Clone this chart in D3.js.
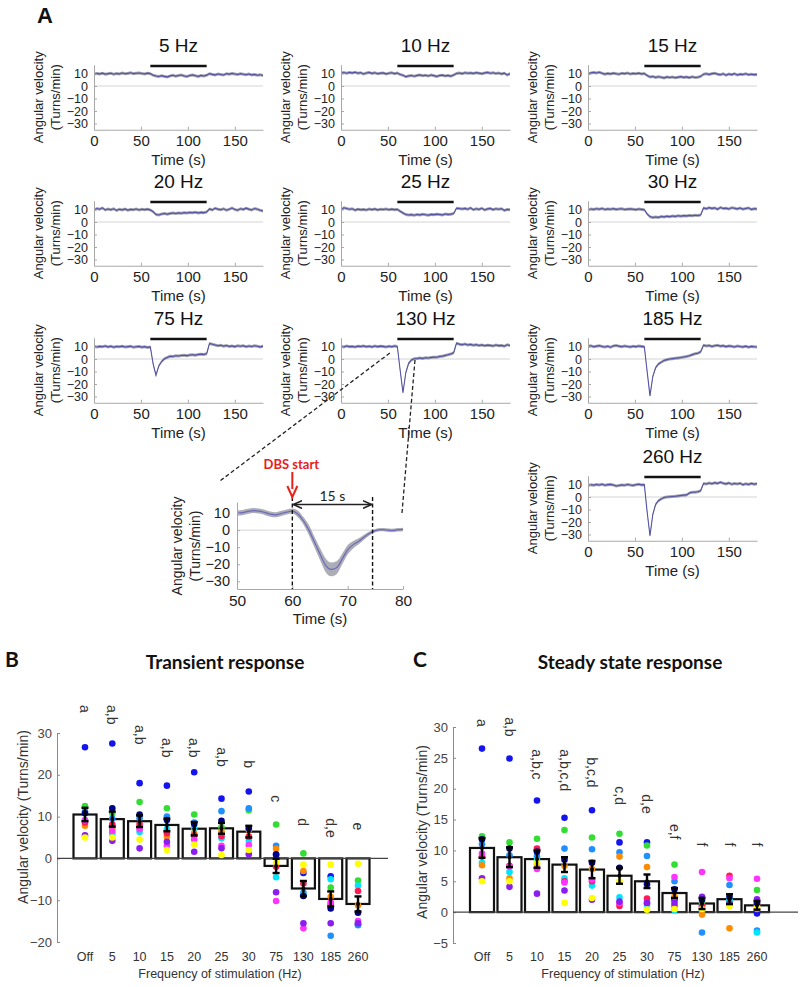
<!DOCTYPE html>
<html><head><meta charset="utf-8">
<script src="https://cdn.jsdelivr.net/npm/d3@7"></script>
<style>body{margin:0;background:#fff}svg{display:block}</style>
</head><body>
<svg id="c" width="800" height="987"></svg>
<script>
// ---------------- DATA ----------------
const timesA = [0,3,6,9,12,15,18,21,24,27,30,33,36,39,42,45,48,51,54,57,60,63,66,69,72,75,78,81,84,87,90,93,96,99,102,105,108,111,114,117,120,123,126,129,132,135,138,141,144,147,150,153,156,159,162,165,168,171,174,177,180];
const trace5 = [9.6,10.1,9.7,10.3,9.5,9.9,10.2,9.4,10.0,9.7,10.4,9.8,10.1,10.6,9.9,10.2,10.4,10.0,9.7,10.3,9.9,8.6,8.0,7.6,8.3,7.7,7.3,8.1,8.6,7.9,8.4,8.8,8.0,7.6,8.4,8.9,8.2,7.7,8.5,8.0,8.7,9.9,9.3,8.9,9.6,9.2,8.8,9.9,9.5,10.1,9.6,9.2,9.9,9.4,9.0,9.6,8.9,9.3,8.6,9.0,8.4];
const trace10 = [10.4,10.8,10.2,10.9,10.5,11.0,10.3,10.7,9.6,10.4,10.9,10.1,10.6,9.8,10.3,10.5,9.7,10.2,10.6,9.9,10.4,9.2,8.6,7.4,8.1,8.4,7.8,8.5,8.9,8.2,8.6,8.0,8.8,8.3,7.7,8.4,8.7,8.1,8.5,7.9,8.8,10.0,10.4,9.9,10.6,10.2,10.5,10.1,10.7,10.3,9.8,10.5,10.9,10.2,10.6,10.0,10.4,9.7,10.3,8.9,9.8];
const trace15 = [9.6,10.5,10.9,10.4,11.0,10.2,9.5,10.1,9.7,10.3,9.8,9.4,10.2,9.9,10.4,9.6,10.1,9.8,10.3,9.7,10.0,8.4,7.2,7.6,6.9,7.4,7.0,6.5,7.3,6.8,7.2,6.6,7.1,7.5,6.9,7.3,6.7,7.4,6.8,7.0,7.7,9.4,9.8,9.3,9.9,10.2,9.5,9.0,9.8,8.7,9.6,9.1,9.9,8.8,9.5,9.2,9.8,9.0,9.4,9.1,9.3];
const trace20 = [9.4,10.8,10.2,11.3,9.6,10.4,9.8,10.6,9.3,10.2,9.7,10.5,9.5,10.1,9.8,10.4,9.6,10.2,9.9,10.3,9.7,8.2,6.0,5.6,6.4,6.8,6.3,6.9,7.2,6.8,7.3,7.0,7.5,7.2,7.6,7.4,7.8,7.3,7.7,7.5,8.0,10.4,9.7,11.0,10.3,9.8,10.6,9.4,10.2,11.2,10.0,9.5,10.6,10.1,11.1,10.3,9.6,10.8,10.2,9.4,8.8];
const trace25 = [9.6,11.4,10.8,10.2,10.6,9.5,10.3,9.8,10.1,9.6,10.4,9.9,10.5,9.7,10.2,10.0,10.4,9.8,10.3,9.9,10.1,8.6,7.2,6.0,5.6,5.9,5.4,6.0,5.7,6.2,5.8,5.5,6.1,5.9,6.3,6.0,5.7,6.4,6.1,6.3,6.8,11.0,10.8,10.4,10.9,10.2,11.3,9.8,10.6,10.1,11.0,9.6,10.5,10.9,9.9,10.6,10.2,10.7,9.3,10.1,9.8];
const trace30 = [9.6,10.4,10.1,10.6,10.3,10.8,10.0,10.5,10.2,10.7,10.1,10.4,10.6,10.0,10.3,10.5,10.2,9.9,10.4,10.1,9.8,6.4,4.3,3.6,4.0,3.7,4.4,4.1,4.6,4.3,4.8,4.5,5.0,4.7,5.1,4.9,5.3,5.0,5.4,5.2,5.6,11.2,10.6,11.5,10.9,11.3,10.2,11.6,10.8,11.1,10.4,11.4,11.0,10.5,11.2,10.3,10.8,11.3,10.1,10.7,10.4];
const trace75 = [10.3,9.6,10.1,9.8,10.4,9.7,10.2,9.5,10.0,9.8,10.3,9.6,9.9,10.2,9.4,9.8,10.1,9.5,9.9,9.3,9.7,-4.0,-13.0,-5.5,-2.0,0.2,1.2,2.2,2.0,2.6,2.4,2.8,3.0,2.7,3.2,3.4,3.1,3.6,3.9,3.7,4.2,12.4,11.8,11.2,10.6,11.0,10.3,10.8,10.1,10.5,9.9,10.6,10.2,10.7,9.8,10.4,10.0,10.6,10.2,9.7,10.3];
const trace130 = [10.2,9.7,10.4,9.9,10.1,9.6,10.3,10.0,10.5,9.8,10.2,9.7,10.4,9.9,10.3,10.1,9.6,10.2,9.8,10.4,10.0,-9.0,-27.0,-11.0,-3.5,-0.8,0.2,0.4,0.8,0.5,1.0,0.8,1.3,1.5,1.4,2.0,2.3,2.9,3.4,4.0,5.0,12.6,11.9,11.4,12.0,11.2,11.7,11.0,11.5,10.8,11.3,10.6,11.1,10.9,10.4,11.2,10.7,10.9,10.3,11.4,10.8];
const trace185 = [10.1,10.6,9.8,10.3,10.7,10.0,9.6,10.2,9.4,10.5,10.8,10.3,9.9,10.4,10.0,9.7,10.2,9.9,10.4,10.1,9.8,-10.0,-29.5,-14.0,-7.0,-4.0,-2.5,-1.2,-0.5,0.0,0.3,0.6,0.9,1.2,1.6,2.0,2.6,3.5,4.2,4.6,5.8,11.0,10.4,10.8,10.1,10.6,11.0,10.3,10.7,9.9,10.5,10.2,9.6,10.4,10.0,9.7,10.3,9.5,10.1,9.8,9.6];
const trace260 = [9.2,9.8,9.5,10.0,9.6,10.2,9.4,9.9,10.1,9.6,8.8,9.2,9.7,9.4,10.0,9.6,9.3,9.8,10.2,9.7,9.9,-12.0,-31.0,-14.0,-6.0,-3.0,-1.5,-0.4,0.0,0.2,0.4,0.6,0.9,1.2,1.5,1.7,3.2,3.8,3.9,4.2,5.0,10.8,10.4,11.2,10.6,11.5,10.9,11.8,11.0,10.5,11.3,10.2,10.8,10.4,11.0,9.8,10.6,10.1,10.9,10.3,10.7];
const semA = 1.2;
const panelTitles = ["5 Hz","10 Hz","15 Hz","20 Hz","25 Hz","30 Hz","75 Hz","130 Hz","185 Hz","260 Hz"];
const stimOn = [60,120];
const yTicksA = [-30,-20,-10,0,10];
const xTicksA = [0,50,100,150];

const timesInset = [50,51,52,53,54,55,56,57,58,59,60,61,62,63,64,65,66,67,68,69,70,71,72,73,74,75,76,77,78,79,80];
const traceInset = [10.0,10.3,11.0,11.5,11.2,10.4,9.4,9.0,9.8,10.6,11.2,9.5,5.5,0.0,-7.0,-14.0,-20.5,-23.0,-22.0,-17.0,-11.5,-8.5,-6.5,-4.0,-1.8,-0.3,0.3,0.1,-0.2,0.2,0.4];
const semInset = [1.5,1.5,1.5,1.5,1.5,1.5,1.5,1.5,1.5,1.5,1.5,2.0,2.2,3.0,3.2,3.5,4.0,4.0,3.8,3.2,2.8,2.2,1.8,1.5,1.2,1.0,1.0,1.0,1.0,1.0,1.0];
const xTicksInset = [50,60,70,80];
const dbsStart = 60, recoveryEnd = 74.5;

const freqCats = ["Off","5","10","15","20","25","30","75","130","185","260"];
const animalColors = ["#1414f0","#33dd33","#1e90ff","#00e5ff","#ff8c00","#ff1a55","#ff33ff","#8a1ef0","#ffff00","#000088"];
const transientDots = [
  [26.6,27.5,18.0,17.4,20.6,14.3,16.0,0.8,-3.5,-4.3,-15.8],
  [12.5,10.8,13.5,12.0,10.5,7.5,11.5,8.1,1.2,-7.0,-5.3],
  [11.2,9.5,9.6,10.0,8.6,11.3,12.0,3.0,-8.2,-18.5,-16.0],
  [9.2,5.8,6.3,7.0,7.2,4.8,4.2,-4.5,-8.8,-5.0,-6.5],
  [7.8,7.2,7.6,5.2,6.0,6.5,6.8,2.3,-3.0,-9.2,-11.2],
  [8.6,8.1,8.2,6.0,5.5,5.3,5.2,-2.0,-6.0,-11.0,-7.8],
  [9.1,6.5,7.0,3.0,4.5,3.0,3.2,-10.2,-16.7,-10.5,-15.0],
  [5.5,4.2,2.4,4.0,1.6,2.4,1.0,-8.1,-15.5,-15.5,-15.5],
  [5.0,5.0,4.5,2.0,3.3,0.8,2.0,-1.0,-1.5,-1.5,-1.3],
  [10.8,12.0,10.5,9.2,8.2,9.0,7.2,1.0,-9.0,-12.0,-13.0]
];
const steadyDots = [
  [26.5,24.9,18.1,15.3,16.5,11.3,11.3,2.0,1.0,1.5,-0.2],
  [12.3,11.3,11.9,13.3,12.1,12.7,10.8,7.7,1.5,1.8,3.6],
  [11.0,9.2,9.0,10.3,10.2,9.7,9.1,5.0,-3.3,4.4,-3.0],
  [8.0,6.5,8.5,5.5,4.3,2.4,1.2,0.3,0.2,2.0,-3.3],
  [7.6,5.5,7.8,7.5,7.0,9.0,7.3,2.5,-0.4,-2.6,0.5],
  [9.0,7.5,10.3,5.0,5.0,1.0,2.2,1.0,1.0,5.9,1.3],
  [9.5,7.4,7.0,4.8,5.3,1.5,1.5,5.7,6.5,5.5,5.4],
  [5.5,4.1,3.0,3.5,2.0,1.7,1.5,1.5,2.5,1.4,2.1],
  [5.0,5.0,8.0,1.5,2.3,5.0,0.4,0.5,0.5,1.0,1.0],
  [11.8,10.3,9.8,8.5,8.0,7.2,4.5,3.7,2.0,2.5,1.5]
];
const meanB = [10.5,9.4,8.9,8.0,7.1,7.2,6.4,-1.8,-7.2,-9.7,-10.9];
const semB = [1.6,1.8,1.4,1.5,1.6,1.3,1.4,1.7,1.8,1.8,1.8];
const meanC = [10.4,8.9,8.6,7.7,6.9,5.9,5.0,3.1,1.4,2.1,1.1];
const semC = [1.6,1.6,1.4,1.2,1.4,1.3,1.1,0.8,0.9,0.8,0.7];
const lettersB = ["a","a,b","a,b","a,b","a,b","a,b","b","c","d","d,e","e"];
const letterTopB = [36.7,36.7,31.9,28.8,28.8,26.6,23.5,15.1,9.6,9.6,8.6];
const lettersC = ["a","a,b","a,b,c","a,b,c,d","b,c,d","c,d","d,e","e,f","f","f","f"];
const letterTopC = [31.3,31.6,26.4,26.4,25.1,20.4,19.1,14.3,11.3,11.3,11.3];
const yTicksB = [-20,-10,0,10,20,30];
const yTicksC = [-5,0,5,10,15,20,25,30];

// ---------------- DRAW ----------------
const svg = d3.select("#c");
const SANS = "'Liberation Sans', Arial, Helvetica, sans-serif";
const CAL = "Lato, 'Open Sans', sans-serif";
const traces = [trace5,trace10,trace15,trace20,trace25,trace30,trace75,trace130,trace185,trace260];
const grid = [[0,0],[1,0],[2,0],[0,1],[1,1],[2,1],[0,2],[1,2],[2,2],[2,3]];
const colX = [94,341,588];
const rowZero = [86,222,359,497];
const scalesA = [];

function styleAxis(g, size, color) {
  g.selectAll(".domain").attr("stroke","#a8a8a8");
  g.selectAll(".tick line").attr("stroke","#a8a8a8");
  g.selectAll(".tick text").attr("font-family",SANS).attr("font-size",size).attr("fill",color||"#222");
}

traces.forEach((tr,k) => {
  const [c,r] = grid[k];
  const x0 = colX[c], z = rowZero[r];
  const x = d3.scaleLinear().domain([0,180]).range([x0,x0+169]);
  const y = d3.scaleLinear().domain([-35,17]).range([z+43.75,z-21.25]);
  scalesA.push({x,y});
  const g = svg.append("g");
  g.append("line").attr("x1",x(0)).attr("x2",x(180)).attr("y1",y(0)).attr("y2",y(0)).attr("stroke","#d4d4d4").attr("stroke-width",1);
  const pts = timesA.map((t,i)=>({t,v:tr[i]})).filter(d=>d.v!==undefined);
  g.append("path").datum(pts).attr("fill","#9898a8").attr("opacity",0.9)
    .attr("d",d3.area().x(d=>x(d.t)).y0(d=>y(d.v-semA)).y1(d=>y(d.v+semA)));
  g.append("path").datum(pts).attr("fill","none").attr("stroke","#5454a2").attr("stroke-width",1.1)
    .attr("d",d3.line().x(d=>x(d.t)).y(d=>y(d.v)));
  const ya = g.append("g").attr("transform",`translate(${x0},0)`)
    .call(d3.axisLeft(y).tickValues(yTicksA).tickSize(-3).tickPadding(6).tickSizeOuter(0));
  styleAxis(ya, 12.5);
  const xa = g.append("g").attr("transform",`translate(0,${y(-35)})`)
    .call(d3.axisBottom(x).tickValues(xTicksA).tickSize(-3).tickPadding(6).tickSizeOuter(0));
  styleAxis(xa, 15);
  g.append("line").attr("x1",x(stimOn[0])).attr("x2",x(stimOn[1])).attr("y1",y(16)).attr("y2",y(16))
    .attr("stroke","#111").attr("stroke-width",2.6);
  g.append("text").attr("x",x(90)).attr("y",z-34).attr("text-anchor","middle")
    .attr("font-family",SANS).attr("font-size",19).attr("fill","#111").text(panelTitles[k]);
  g.append("text").attr("x",x(90)).attr("y",y(-35)+35).attr("text-anchor","middle")
    .attr("font-family",SANS).attr("font-size",15).attr("fill","#222").text("Time (s)");
  const cy = (y(17)+y(-35))/2;
  [["Angular velocity",x0-56],["(Turns/min)",x0-39]].forEach(([s,xx])=>{
    g.append("text").attr("transform",`translate(${xx},${cy}) rotate(-90)`).attr("text-anchor","middle")
      .attr("dy","0.35em").attr("font-family",SANS).attr("font-size",13).attr("fill","#222").text(s);
  });
});

svg.append("text").attr("x",37).attr("y",23).attr("font-family",SANS).attr("font-weight","bold")
  .attr("font-size",22).attr("fill","#111").text("A");

// ---- inset ----
const xi = d3.scaleLinear().domain([50,80]).range([237,403]);
const yi = d3.scaleLinear().domain([-34.5,16.5]).range([589,502]);
{
  const g = svg.append("g");
  g.append("line").attr("x1",xi(50)).attr("x2",xi(80)).attr("y1",yi(0)).attr("y2",yi(0)).attr("stroke","#d4d4d4");
  const pts = timesInset.map((t,i)=>({t,v:traceInset[i],s:semInset[i]}));
  g.append("path").datum(pts).attr("fill","#a4a4b0").attr("opacity",0.9)
    .attr("d",d3.area().curve(d3.curveMonotoneX).x(d=>xi(d.t)).y0(d=>yi(d.v-d.s)).y1(d=>yi(d.v+d.s)));
  g.append("path").datum(pts).attr("fill","none").attr("stroke","#6a6ab8").attr("stroke-width",1.2)
    .attr("d",d3.line().curve(d3.curveMonotoneX).x(d=>xi(d.t)).y(d=>yi(d.v)));
  const ya = g.append("g").attr("transform",`translate(${xi(50)},0)`)
    .call(d3.axisLeft(yi).tickValues(yTicksA).tickSize(-3).tickPadding(7).tickSizeOuter(0));
  styleAxis(ya, 14.5);
  const xa = g.append("g").attr("transform",`translate(0,${yi(-34.5)})`)
    .call(d3.axisBottom(xi).tickValues(xTicksInset).tickSize(-3).tickPadding(6).tickSizeOuter(0));
  styleAxis(xa, 15.5);
  g.append("text").attr("x",xi(65)).attr("y",624).attr("text-anchor","middle").attr("font-family",SANS)
    .attr("font-size",15).attr("fill","#222").text("Time (s)");
  [["Angular velocity",177],["(Turns/min)",195]].forEach(([s,xx])=>{
    g.append("text").attr("transform",`translate(${xx},546) rotate(-90)`).attr("text-anchor","middle")
      .attr("dy","0.35em").attr("font-family",SANS).attr("font-size",14).attr("fill","#222").text(s);
  });
  [dbsStart,recoveryEnd].forEach(t=>{
    g.append("line").attr("x1",xi(t)).attr("x2",xi(t)).attr("y1",yi(19.5)).attr("y2",yi(-34.5))
      .attr("stroke","#111").attr("stroke-width",1.4).attr("stroke-dasharray","4,2.5");
  });
  // double arrow
  const ay = yi(15);
  const defs = svg.append("defs");
  defs.append("marker").attr("id","ah").attr("viewBox","0 0 10 10").attr("refX",9).attr("refY",5)
    .attr("markerWidth",7).attr("markerHeight",7).attr("orient","auto-start-reverse")
    .append("path").attr("d","M0,1 L9,5 L0,9").attr("fill","none").attr("stroke","#222").attr("stroke-width",1.6);
  g.append("line").attr("x1",xi(dbsStart)+1).attr("x2",xi(recoveryEnd)-1).attr("y1",ay).attr("y2",ay)
    .attr("stroke","#222").attr("stroke-width",1.4).attr("marker-start","url(#ah)").attr("marker-end","url(#ah)");
  g.append("text").attr("x",xi((dbsStart+recoveryEnd)/2)).attr("y",ay-4).attr("text-anchor","middle")
    .attr("font-family",CAL).attr("font-size",14).attr("fill","#222").text("15 s");
  // red arrow + label
  const rx = xi(dbsStart);
  g.append("line").attr("x1",rx).attr("x2",rx).attr("y1",472).attr("y2",489).attr("stroke","#e8201c").attr("stroke-width",2);
  g.append("path").attr("d",`M${rx-5},486 L${rx},497 L${rx+5},486`).attr("fill","none").attr("stroke","#e8201c").attr("stroke-width",2);
  g.append("text").attr("x",rx-1).attr("y",469).attr("text-anchor","middle").attr("font-family",CAL)
    .attr("font-weight","bold").attr("font-size",13).attr("fill","#e8201c").text("DBS start");
  // projection dashed lines from 130 Hz panel
  const s130 = scalesA[7];
  const proj = [[[52,4.8],[46.9,28.8]],[[78.8,-0.8],[79.8,9.4]]];
  proj.forEach(([a,b])=>{
    g.append("line").attr("x1",s130.x(a[0])).attr("y1",s130.y(a[1])).attr("x2",xi(b[0])).attr("y2",yi(b[1]))
      .attr("stroke","#222").attr("stroke-width",1.3).attr("stroke-dasharray","4,2.5");
  });
}

// ---- bar charts ----
function barChart(o) {
  const x = d3.scalePoint().domain(freqCats).range(o.xr);
  const y = d3.scaleLinear().domain(o.yd).range(o.yr);
  const g = svg.append("g");
  const ya = g.append("g").attr("transform",`translate(${o.axisX},0)`)
    .call(d3.axisLeft(y).tickValues(o.ticks).tickSize(-3).tickPadding(5).tickSizeOuter(0));
  styleAxis(ya, 13, "#444");
  ya.selectAll(".domain,.tick line").attr("stroke","#8a8a8a");
  const bw = o.bw;
  g.selectAll("rect.bar").data(o.means).join("rect")
    .attr("x",(d,i)=>x(freqCats[i])-bw/2).attr("y",d=>Math.min(y(d),y(0)))
    .attr("width",bw).attr("height",d=>Math.abs(y(d)-y(0)))
    .attr("fill","#fff").attr("stroke","#111").attr("stroke-width",2.2);
  g.append("line").attr("x1",o.axisX).attr("x2",o.zeroEnd).attr("y1",y(0)).attr("y2",y(0))
    .attr("stroke","#444").attr("stroke-width",1.3);
  o.dots.forEach((row,a)=>{
    g.selectAll(null).data(row).join("circle")
      .attr("cx",(d,i)=>x(freqCats[i])).attr("cy",d=>y(d)).attr("r",3.3).attr("fill",animalColors[a]);
  });
  o.means.forEach((m,i)=>{
    const cx = x(freqCats[i]), s = o.sems[i];
    g.append("line").attr("x1",cx).attr("x2",cx).attr("y1",y(m-s)).attr("y2",y(m+s)).attr("stroke","#000").attr("stroke-width",2.4);
    [m-s,m+s].forEach(v=>g.append("line").attr("x1",cx-3.5).attr("x2",cx+3.5).attr("y1",y(v)).attr("y2",y(v)).attr("stroke","#000").attr("stroke-width",2.4));
    g.append("circle").attr("cx",cx).attr("cy",y(m)).attr("r",2).attr("fill","#000");
  });
  o.letters.forEach((t,i)=>{
    g.append("text").attr("transform",`translate(${x(freqCats[i])},${y(o.letterTop[i])}) rotate(90)`)
      .attr("dy","0.35em").attr("font-family",SANS).attr("font-size",14).attr("fill","#333").text(t);
  });
  freqCats.forEach(cat=>{
    g.append("text").attr("x",x(cat)).attr("y",o.tickY).attr("text-anchor","middle").attr("font-family",SANS)
      .attr("font-size",12.5).attr("fill","#333").text(cat);
  });
  g.append("text").attr("x",o.xTitleX).attr("y",o.tickY+17).attr("text-anchor","middle").attr("font-family",SANS)
    .attr("font-size",12.5).attr("fill","#333").text("Frequency of stimulation (Hz)");
  g.append("text").attr("transform",`translate(${o.yTitleX},${o.yTitleY}) rotate(-90)`).attr("text-anchor","middle")
    .attr("dy","0.35em").attr("font-family",SANS).attr("font-size",14).attr("fill","#333").text("Angular velocity (Turns/min)");
  g.append("text").attr("x",o.titleX).attr("y",669).attr("text-anchor","middle").attr("font-family",CAL)
    .attr("font-weight","bold").attr("font-size",19).attr("fill","#111").text(o.title);
  g.append("text").attr("x",o.labelX).attr("y",667).attr("font-family",CAL)
    .attr("font-weight","bold").attr("font-size",21).attr("fill","#111").text(o.label);
}

barChart({xr:[85,358], yd:[-20,30], yr:[942,733], axisX:57, zeroEnd:388, ticks:yTicksB, bw:23,
  means:meanB, sems:semB, dots:transientDots, letters:lettersB, letterTop:letterTopB,
  tickY:961, xTitleX:220, yTitleX:23, yTitleY:817, title:"Transient response", titleX:225, label:"B", labelX:5});
barChart({xr:[482,757], yd:[-5,30], yr:[943,727], axisX:453, zeroEnd:798, ticks:yTicksC, bw:24,
  means:meanC, sems:semC, dots:steadyDots, letters:lettersC, letterTop:letterTopC,
  tickY:961, xTitleX:623, yTitleX:422, yTitleY:832, title:"Steady state response", titleX:630, label:"C", labelX:413});
</script>
</body></html>
